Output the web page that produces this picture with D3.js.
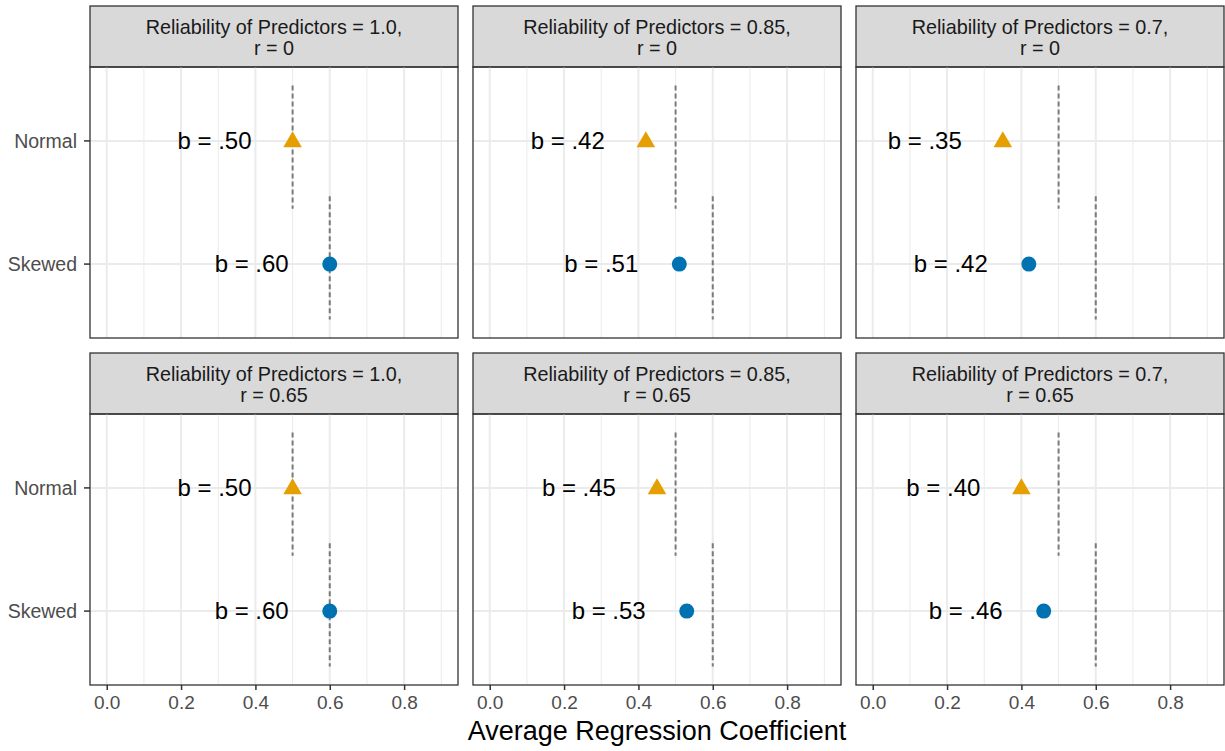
<!DOCTYPE html>
<html lang="en">

<head>
    <meta charset="utf-8">
    <script src='https://d3js.org/d3.v7.min.js'></script>
    <style>
        body { margin: 0; background: #fff; }
        text { font-family: "Liberation Sans", Arial, sans-serif; }
    </style>
</head>

<body>

    <script>

        // facet levels
        const reliabilities = ["1.0", "0.85", "0.7"];
        const correlations = ["0", "0.65"];
        const distributions = ["Normal", "Skewed"];

        // average regression coefficient, one row per r, one column per reliability
        const normalB = [[0.50, 0.42, 0.35], [0.50, 0.45, 0.40]];
        const skewedB = [[0.60, 0.51, 0.42], [0.60, 0.53, 0.46]];

        // true (population) values drawn as dashed reference lines
        const trueB = [0.5, 0.6];
        // vertical extent of each reference line, in category units
        const refSpan = [[0.55, 1.55], [1.45, 2.45]];

        const xTicks = [0, 0.2, 0.4, 0.6, 0.8];
        const xMinor = [0.1, 0.3, 0.5, 0.7, 0.9];
        const xTitle = "Average Regression Coefficient";

        const width = 1225;
        const height = 751;
        const marginLeft = 90, marginTop = 6;
        const panelW = 368, gap = 15;
        const stripH = 61, bodyH = 271;

        const colors = { Normal: "#E69F00", Skewed: "#0072B2" };

        const svg = d3.select("body")
            .append("svg")
            .attr("width", width)
            .attr("height", height);

        // ggplot-like 5% expansion around [0, 0.9]
        const x = d3.scaleLinear()
            .domain([-0.045, 0.945])
            .range([0, panelW]);

        // discrete axis: categories at 1 and 2, expanded by 0.6
        const y = d3.scaleLinear()
            .domain([0.4, 2.6])
            .range([0, bodyH]);

        const fmt = v => "b = " + d3.format(".2f")(v).replace(/^0/, "");

        const triangle = d3.symbol().type(d3.symbolTriangle).size(150);

        correlations.forEach(function (r, row) {
            reliabilities.forEach(function (rel, col) {
                const px = marginLeft + col * (panelW + gap);
                const py = marginTop + row * (stripH + bodyH + gap);
                const g = svg.append("g").attr("transform", "translate(" + px + "," + py + ")");

                // strip
                g.append("rect")
                    .attr("width", panelW).attr("height", stripH)
                    .attr("fill", "#D9D9D9").attr("stroke", "#333").attr("stroke-width", 1.3);
                g.append("text")
                    .attr("x", panelW / 2).attr("y", 28)
                    .attr("text-anchor", "middle").attr("font-size", 19.8).attr("fill", "#1A1A1A")
                    .text("Reliability of Predictors = " + rel + ",");
                g.append("text")
                    .attr("x", panelW / 2).attr("y", 49)
                    .attr("text-anchor", "middle").attr("font-size", 19.8).attr("fill", "#1A1A1A")
                    .text("r = " + r);

                const body = g.append("g").attr("transform", "translate(0," + stripH + ")");

                // grid
                body.selectAll(".minor").data(xMinor).enter().append("line")
                    .attr("x1", d => x(d)).attr("x2", d => x(d))
                    .attr("y1", 0).attr("y2", bodyH)
                    .attr("stroke", "#EBEBEB").attr("stroke-width", 1);
                body.selectAll(".major").data(xTicks).enter().append("line")
                    .attr("x1", d => x(d)).attr("x2", d => x(d))
                    .attr("y1", 0).attr("y2", bodyH)
                    .attr("stroke", "#EBEBEB").attr("stroke-width", 2);
                body.selectAll(".hgrid").data(distributions).enter().append("line")
                    .attr("x1", 0).attr("x2", panelW)
                    .attr("y1", (d, i) => y(i + 1)).attr("y2", (d, i) => y(i + 1))
                    .attr("stroke", "#EBEBEB").attr("stroke-width", 2);

                // reference lines
                body.selectAll(".ref").data(trueB).enter().append("line")
                    .attr("x1", d => x(d)).attr("x2", d => x(d))
                    .attr("y1", (d, i) => y(refSpan[i][0])).attr("y2", (d, i) => y(refSpan[i][1]))
                    .attr("stroke", "#7A7A7A").attr("stroke-width", 2)
                    .attr("stroke-dasharray", "5,3");

                const vals = [normalB[row][col], skewedB[row][col]];

                // points
                body.append("path")
                    .attr("d", triangle)
                    .attr("transform", "translate(" + x(vals[0]) + "," + (y(1) + 1) + ")")
                    .attr("fill", colors.Normal);
                body.append("circle")
                    .attr("cx", x(vals[1])).attr("cy", y(2)).attr("r", 7.5)
                    .attr("fill", colors.Skewed);

                // labels
                body.selectAll(".lab").data(vals).enter().append("text")
                    .attr("x", d => x(d - 0.21))
                    .attr("y", (d, i) => y(i + 1))
                    .attr("dy", "0.35em")
                    .attr("text-anchor", "middle")
                    .attr("font-size", 24)
                    .attr("fill", "#000")
                    .text(fmt);

                // border
                body.append("rect")
                    .attr("width", panelW).attr("height", bodyH)
                    .attr("fill", "none").attr("stroke", "#333").attr("stroke-width", 1.3);

                // y axis on first column
                if (col === 0) {
                    const yAxis = body.selectAll(".ylab").data(distributions).enter().append("g")
                        .attr("transform", (d, i) => "translate(0," + y(i + 1) + ")");
                    yAxis.append("line")
                        .attr("x1", -6).attr("x2", 0)
                        .attr("stroke", "#333").attr("stroke-width", 1.5);
                    yAxis.append("text")
                        .attr("x", -13).attr("dy", "0.35em")
                        .attr("text-anchor", "end").attr("font-size", 19.5).attr("fill", "#4D4D4D")
                        .text(d => d);
                }

                // x axis on bottom row
                if (row === correlations.length - 1) {
                    const xAxis = body.append("g")
                        .attr("transform", "translate(0," + bodyH + ")")
                        .call(d3.axisBottom(x).tickValues(xTicks).tickFormat(d3.format(".1f"))
                            .tickSize(5).tickPadding(6));
                    xAxis.select(".domain").remove();
                    xAxis.selectAll(".tick line").attr("stroke", "#333").attr("stroke-width", 1.5);
                    xAxis.selectAll(".tick text")
                        .attr("font-size", 19).attr("fill", "#4D4D4D")
                        .attr("font-family", "Liberation Sans, Arial, sans-serif");
                }
            });
        });

        svg.append("text")
            .attr("x", marginLeft + (3 * panelW + 2 * gap) / 2)
            .attr("y", 740)
            .attr("text-anchor", "middle")
            .attr("font-size", 27)
            .attr("fill", "#000")
            .text(xTitle);

    </script>

</body>

</html>
